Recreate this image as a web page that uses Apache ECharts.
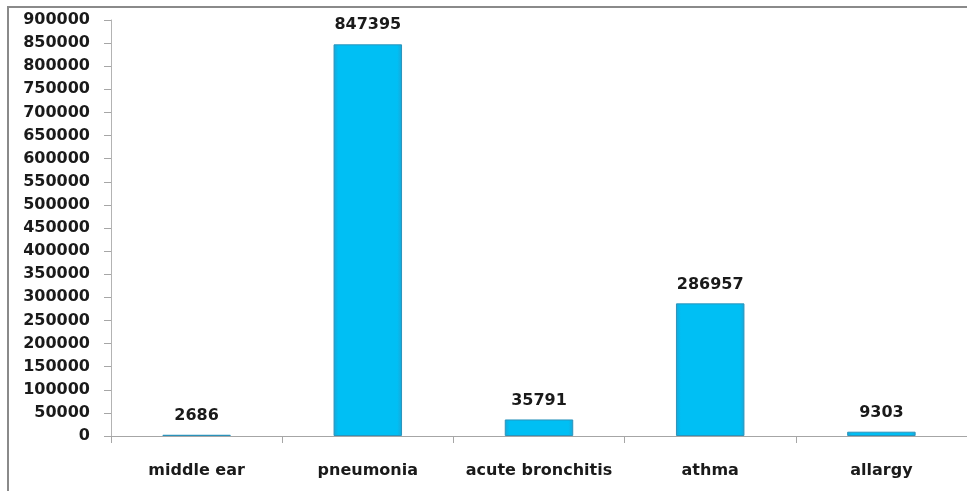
<!DOCTYPE html>
<html>
<head>
<meta charset="utf-8">
<script src="https://cdn.jsdelivr.net/npm/echarts@6/dist/echarts.min.js"></script>
<style>
html,body{margin:0;padding:0;background:#fff;}
#main{width:967px;height:491px;}
</style>
</head>
<body>
<div id="main"></div>
<script>
const categories = ['middle ear', 'pneumonia', 'acute bronchitis', 'athma', 'allargy'];
const values = [2686, 847395, 35791, 286957, 9303];
const yMin = 0, yMax = 900000, yStep = 50000;

const chart = echarts.init(document.getElementById('main'));
const font = 'DejaVu Sans';
chart.setOption({
  animation: false,
  backgroundColor: '#ffffff',
  graphic: [{
    type: 'rect',
    shape: { x: 8, y: 7, width: 1100, height: 1000 },
    style: { fill: 'none', stroke: '#8a8a8a', lineWidth: 2 },
    silent: true
  }],
  grid: { left: 111, top: 20, width: 868, bottom: 55, containLabel: false },
  xAxis: {
    type: 'category',
    data: categories,
    boundaryGap: true,
    axisLine: { show: true, lineStyle: { color: '#a6a6a6', width: 1 } },
    axisTick: { show: true, length: 7, interval: 0, alignWithLabel: false, lineStyle: { color: '#a6a6a6' } },
    axisLabel: { interval: 0, hideOverlap: false, margin: 27, color: '#1a1a1a', fontFamily: font, fontWeight: 'bold', fontSize: 16 },
    splitLine: { show: false }
  },
  yAxis: {
    type: 'value',
    min: yMin, max: yMax, interval: yStep,
    axisLine: { show: true, lineStyle: { color: '#b3b3b3', width: 1 } },
    axisTick: { show: true, length: 7, lineStyle: { color: '#a6a6a6' } },
    axisLabel: { margin: 21, color: '#1a1a1a', fontFamily: font, fontWeight: 'bold', fontSize: 16,
      formatter: function (v) { return String(v); } },
    splitLine: { show: false }
  },
  series: [{
    type: 'bar',
    data: values,
    barWidth: '40%',
    itemStyle: {
      color: new echarts.graphic.LinearGradient(0, 0, 1, 0, [
        { offset: 0, color: '#1aa6d6' },
        { offset: 0.07, color: '#00bff4' },
        { offset: 0.93, color: '#00bff4' },
        { offset: 1, color: '#1aa6d6' }
      ]),
      borderColor: '#2b93bb',
      borderWidth: 1
    },
    label: {
      show: true,
      position: 'top',
      distance: 11,
      color: '#1a1a1a',
      fontFamily: font,
      fontWeight: 'bold',
      fontSize: 16
    }
  }]
});
</script>
</body>
</html>
